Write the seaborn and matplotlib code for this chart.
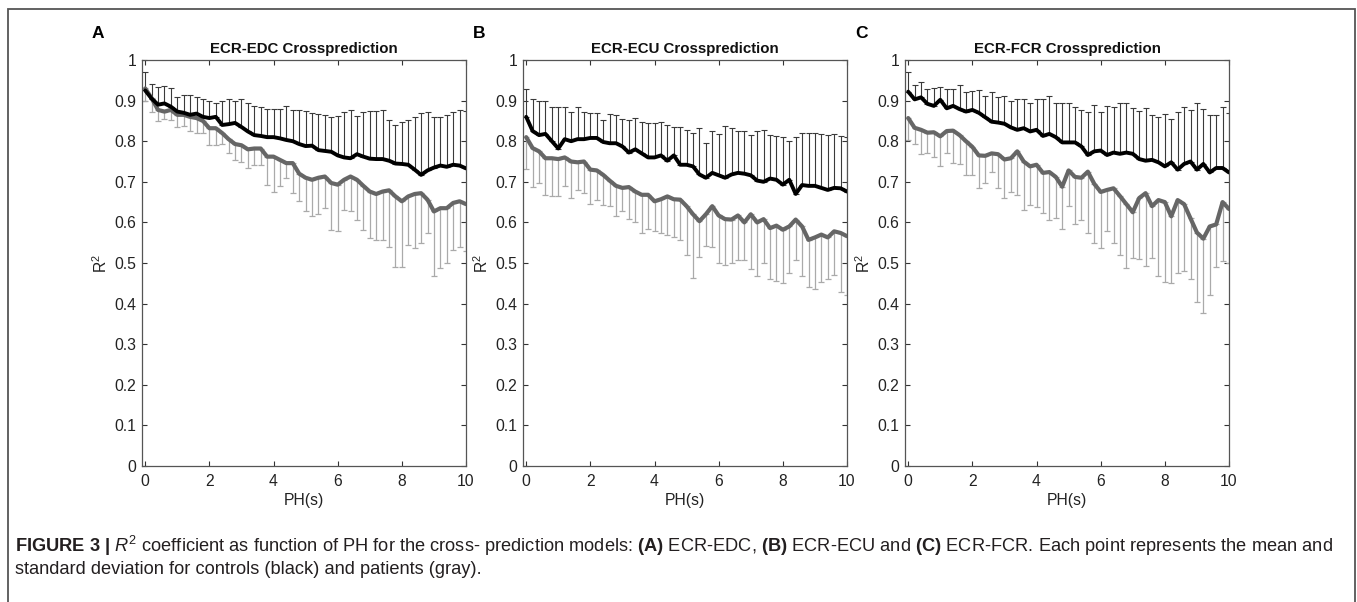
import numpy as np
import matplotlib
matplotlib.use("Agg")
import matplotlib.pyplot as plt
import seaborn as sns
from matplotlib.patches import Rectangle

# prediction horizon (s)
ph = np.linspace(0, 10, 51)

# ECR-EDC
edc_ctrl = [0.925, 0.905, 0.89, 0.893, 0.885, 0.873, 0.87, 0.865, 0.868, 0.86,
            0.857, 0.86, 0.84, 0.842, 0.845, 0.835, 0.824, 0.815, 0.813, 0.81,
            0.81, 0.807, 0.803, 0.80, 0.793, 0.788, 0.789, 0.778, 0.776, 0.774,
            0.765, 0.76, 0.758, 0.768, 0.762, 0.757, 0.756, 0.756, 0.752, 0.745,
            0.744, 0.742, 0.73, 0.717, 0.728, 0.735, 0.74, 0.737, 0.742, 0.74,
            0.733]
edc_ctrl_top = [0.97, 0.94, 0.933, 0.935, 0.93, 0.91, 0.914, 0.914, 0.91, 0.903,
                0.90, 0.893, 0.90, 0.905, 0.90, 0.905, 0.893, 0.887, 0.884, 0.88,
                0.88, 0.88, 0.887, 0.877, 0.877, 0.875, 0.87, 0.867, 0.865, 0.86,
                0.862, 0.873, 0.877, 0.862, 0.873, 0.875, 0.875, 0.877, 0.852, 0.84,
                0.848, 0.852, 0.86, 0.87, 0.873, 0.86, 0.86, 0.865, 0.873, 0.877,
                0.875]
edc_pat = [0.93, 0.906, 0.877, 0.873, 0.877, 0.865, 0.865, 0.86, 0.857, 0.85,
           0.832, 0.832, 0.82, 0.805, 0.793, 0.79, 0.78, 0.782, 0.782, 0.762,
           0.762, 0.754, 0.746, 0.746, 0.72, 0.71, 0.705, 0.71, 0.713, 0.697,
           0.693, 0.705, 0.713, 0.705, 0.69, 0.676, 0.67, 0.676, 0.679, 0.664,
           0.652, 0.664, 0.67, 0.672, 0.656, 0.627, 0.635, 0.635, 0.648, 0.652,
           0.645]
edc_pat_low = [0.90, 0.873, 0.85, 0.854, 0.852, 0.836, 0.838, 0.824, 0.82, 0.82,
               0.79, 0.79, 0.793, 0.77, 0.754, 0.75, 0.734, 0.742, 0.742, 0.693,
               0.676, 0.69, 0.71, 0.672, 0.652, 0.627, 0.615, 0.62, 0.635, 0.582,
               0.58, 0.63, 0.627, 0.607, 0.582, 0.561, 0.557, 0.557, 0.54, 0.49,
               0.49, 0.545, 0.537, 0.55, 0.574, 0.467, 0.488, 0.50, 0.533, 0.54,
               0.53]

# ECR-ECU
ecu_ctrl = [0.86, 0.825, 0.815, 0.818, 0.80, 0.782, 0.805, 0.80, 0.805, 0.805,
            0.808, 0.808, 0.798, 0.795, 0.795, 0.787, 0.772, 0.78, 0.77, 0.76,
            0.76, 0.765, 0.752, 0.765, 0.742, 0.742, 0.738, 0.718, 0.71, 0.722,
            0.716, 0.71, 0.718, 0.722, 0.72, 0.716, 0.703, 0.70, 0.708, 0.705,
            0.693, 0.705, 0.67, 0.692, 0.69, 0.69, 0.685, 0.68, 0.685, 0.684,
            0.676]
ecu_ctrl_top = [0.928, 0.905, 0.90, 0.90, 0.885, 0.885, 0.885, 0.873, 0.885, 0.873,
                0.87, 0.87, 0.852, 0.866, 0.865, 0.854, 0.852, 0.857, 0.848, 0.844,
                0.844, 0.847, 0.84, 0.836, 0.834, 0.828, 0.82, 0.832, 0.795, 0.826,
                0.818, 0.838, 0.832, 0.826, 0.826, 0.816, 0.825, 0.828, 0.816, 0.813,
                0.811, 0.80, 0.81, 0.821, 0.82, 0.82, 0.818, 0.816, 0.818, 0.813,
                0.81]
ecu_pat = [0.81, 0.783, 0.775, 0.758, 0.758, 0.756, 0.76, 0.75, 0.748, 0.75,
           0.73, 0.728, 0.717, 0.703, 0.69, 0.685, 0.687, 0.676, 0.668, 0.668,
           0.652, 0.657, 0.664, 0.657, 0.656, 0.64, 0.62, 0.603, 0.62, 0.64,
           0.617, 0.608, 0.607, 0.617, 0.60, 0.62, 0.60, 0.608, 0.586, 0.592,
           0.582, 0.59, 0.607, 0.59, 0.557, 0.563, 0.57, 0.563, 0.578, 0.574,
           0.566]
ecu_pat_low = [0.732, 0.688, 0.697, 0.668, 0.664, 0.664, 0.69, 0.66, 0.68, 0.673,
               0.645, 0.655, 0.643, 0.64, 0.615, 0.627, 0.608, 0.60, 0.575, 0.584,
               0.58, 0.575, 0.57, 0.563, 0.557, 0.52, 0.463, 0.516, 0.543, 0.54,
               0.50, 0.495, 0.50, 0.508, 0.508, 0.484, 0.467, 0.50, 0.46, 0.455,
               0.45, 0.475, 0.508, 0.467, 0.44, 0.437, 0.453, 0.46, 0.47, 0.428,
               0.42]

# ECR-FCR
fcr_ctrl = [0.922, 0.903, 0.908, 0.892, 0.887, 0.902, 0.881, 0.887, 0.879, 0.873,
            0.877, 0.87, 0.859, 0.848, 0.846, 0.843, 0.834, 0.828, 0.832, 0.824,
            0.828, 0.813, 0.818, 0.81, 0.797, 0.797, 0.797, 0.787, 0.766, 0.775,
            0.777, 0.766, 0.772, 0.769, 0.772, 0.769, 0.756, 0.752, 0.754, 0.748,
            0.738, 0.748, 0.73, 0.744, 0.75, 0.73, 0.744, 0.723, 0.734, 0.734,
            0.723]
fcr_ctrl_top = [0.971, 0.938, 0.947, 0.929, 0.93, 0.934, 0.928, 0.928, 0.938, 0.922,
                0.924, 0.925, 0.911, 0.922, 0.91, 0.911, 0.898, 0.903, 0.903, 0.895,
                0.903, 0.903, 0.911, 0.895, 0.893, 0.895, 0.885, 0.877, 0.873, 0.889,
                0.873, 0.887, 0.885, 0.893, 0.895, 0.881, 0.875, 0.881, 0.865, 0.859,
                0.867, 0.854, 0.873, 0.884, 0.877, 0.893, 0.879, 0.865, 0.865, 0.885,
                0.87]
fcr_pat = [0.857, 0.833, 0.828, 0.821, 0.822, 0.812, 0.825, 0.826, 0.815, 0.80,
           0.786, 0.765, 0.764, 0.77, 0.768, 0.755, 0.758, 0.775, 0.75, 0.738,
           0.742, 0.722, 0.724, 0.712, 0.688, 0.728, 0.712, 0.71, 0.725, 0.695,
           0.675, 0.68, 0.684, 0.665, 0.645, 0.625, 0.66, 0.672, 0.64, 0.655,
           0.65, 0.615, 0.655, 0.645, 0.61, 0.575, 0.56, 0.59, 0.595, 0.65,
           0.633]
fcr_pat_low = [0.803, 0.793, 0.768, 0.772, 0.762, 0.74, 0.77, 0.746, 0.744, 0.717,
               0.717, 0.684, 0.697, 0.725, 0.684, 0.66, 0.674, 0.668, 0.631, 0.643,
               0.638, 0.623, 0.605, 0.61, 0.584, 0.64, 0.597, 0.607, 0.574, 0.55,
               0.537, 0.58, 0.549, 0.52, 0.488, 0.512, 0.51, 0.493, 0.512, 0.467,
               0.452, 0.45, 0.475, 0.48, 0.46, 0.403, 0.377, 0.42, 0.49, 0.505,
               0.50]

panels = [
    ("A", "ECR-EDC Crossprediction", edc_ctrl, edc_ctrl_top, edc_pat, edc_pat_low),
    ("B", "ECR-ECU Crossprediction", ecu_ctrl, ecu_ctrl_top, ecu_pat, ecu_pat_low),
    ("C", "ECR-FCR Crossprediction", fcr_ctrl, fcr_ctrl_top, fcr_pat, fcr_pat_low),
]

sns.set_theme(style="ticks")
plt.rcParams['font.family'] = ['Liberation Sans', 'DejaVu Sans']
plt.rcParams['mathtext.fontset'] = 'custom'
plt.rcParams['mathtext.rm'] = 'Liberation Sans'
plt.rcParams['mathtext.it'] = 'Liberation Sans:italic'
plt.rcParams['mathtext.bf'] = 'Liberation Sans:bold'

W, H = 1357, 602
fig = plt.figure(figsize=(W / 100, H / 100), dpi=100)

axis_col = '#333333'
lefts = [142, 523, 905]
for (letter, title, ctrl, ctrl_top, pat, pat_low), lx in zip(panels, lefts):
    ax = fig.add_axes([lx / W, (H - 466) / H, 324 / W, 406 / H])
    ctrl = np.array(ctrl); pat = np.array(pat)
    up = np.array(ctrl_top) - ctrl
    dn = pat - np.array(pat_low)
    zero = np.zeros_like(ph)

    # one-sided bars: controls upwards, patients downwards
    ax.errorbar(ph, pat, yerr=[dn, zero], fmt='none', ecolor='#aaaaaa',
                elinewidth=0.9, capsize=2.5, capthick=0.9, zorder=2)
    ax.errorbar(ph, ctrl, yerr=[zero, up], fmt='none', ecolor='#3a3a3a',
                elinewidth=0.8, capsize=2.5, capthick=0.8, zorder=2)
    sns.lineplot(x=ph, y=pat, ax=ax, color='#666666', linewidth=3.0, zorder=3)
    sns.lineplot(x=ph, y=ctrl, ax=ax, color='black', linewidth=2.8, zorder=4)

    ax.set_xlim(-0.1, 10)
    ax.set_ylim(0, 1)
    ax.set_xticks([0, 2, 4, 6, 8, 10])
    ax.set_yticks(np.round(np.arange(0, 1.01, 0.1), 1))
    ax.set_yticklabels(['0'] + ['%.1f' % v for v in np.arange(0.1, 0.95, 0.1)] + ['1'])
    ax.tick_params(direction='in', top=True, right=True, length=3.5, width=0.8,
                   colors=axis_col, labelsize=11.3, labelcolor='#222222')
    ax.tick_params(axis='x', pad=6)
    ax.tick_params(axis='y', pad=4)
    for s in ax.spines.values():
        s.set_color('#555555')
        s.set_linewidth(0.9)
    ax.set_xlabel('PH(s)', fontsize=11.3, color='#222222', labelpad=3)
    ax.set_ylabel('R$^2$', fontsize=11.3, color='#222222', labelpad=3)
    ax.set_title(title, fontsize=10.8, fontweight='bold', color='#111111', pad=5)
    fig.text((lx - 44) / W, 1 - 34 / H, letter, fontsize=12.5, fontweight='bold',
             ha='center', va='center', color='black')

# frame around figure
fig.patches.append(Rectangle((8 / W, -0.05), (1355 - 8) / W, 1.05 - 9 / H,
                             transform=fig.transFigure, fill=False,
                             edgecolor='#555555', linewidth=1.3))

cap1 = (r"$\bf{FIGURE\ 3\ |}$ $\it{R}^2$ coefficient as function of PH for the cross- prediction "
        r"models: $\bf{(A)}$ ECR-EDC, $\bf{(B)}$ ECR-ECU and $\bf{(C)}$ ECR-FCR. Each point "
        r"represents the mean and")
cap2 = "standard deviation for controls (black) and patients (gray)."
fig.text(15 / W, 1 - 546 / H, cap1, fontsize=13.15, color='#231f20', va='center')
fig.text(15 / W, 1 - 570 / H, cap2, fontsize=13.15, color='#231f20', va='center')

fig.savefig('out.png', dpi=100)
